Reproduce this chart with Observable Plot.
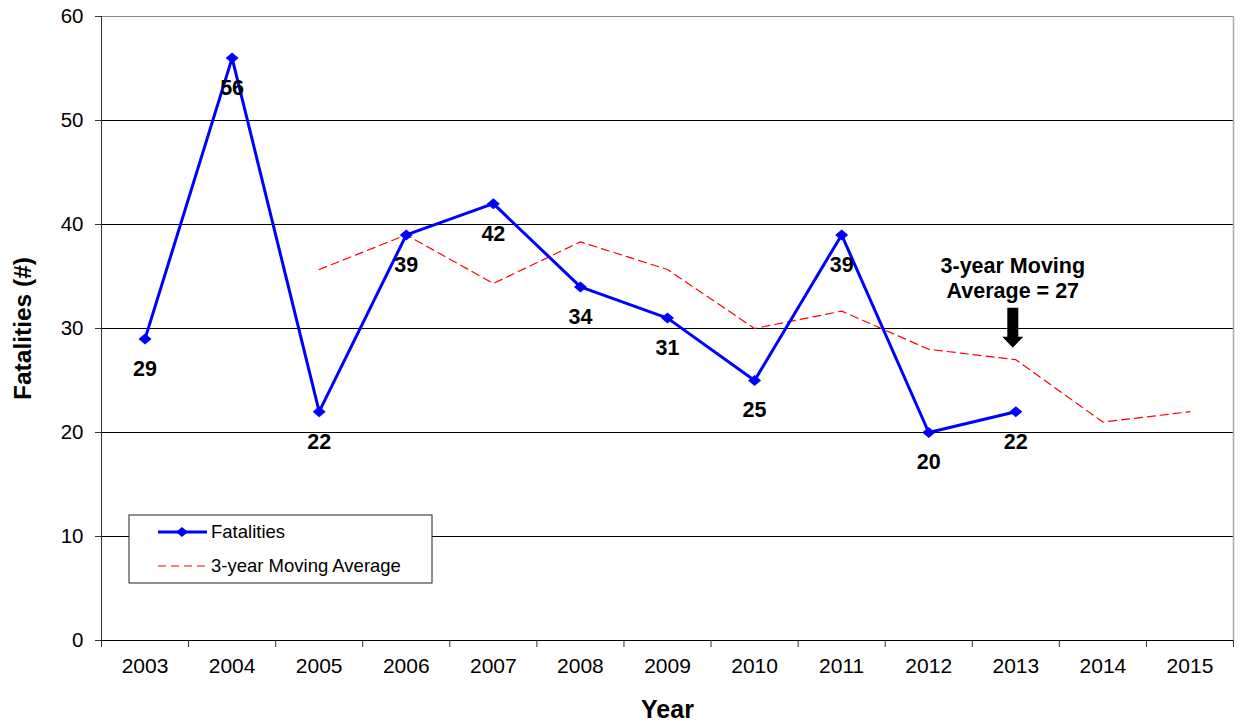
<!DOCTYPE html>
<html>
<head>
<meta charset="utf-8">
<script src="https://cdn.jsdelivr.net/npm/d3@7"></script>
<script src="https://cdn.jsdelivr.net/npm/@observablehq/plot@0.6"></script>
<style>
  html, body { margin: 0; padding: 0; background: #fff; }
  #chart { position: relative; width: 1242px; height: 721px; }
  svg { font-family: "Liberation Sans", Arial, sans-serif; }
</style>
</head>
<body>
<div id="chart"></div>
<script>
const years = [2003, 2004, 2005, 2006, 2007, 2008, 2009, 2010, 2011, 2012, 2013, 2014, 2015];
const fatalityYears = [2003, 2004, 2005, 2006, 2007, 2008, 2009, 2010, 2011, 2012, 2013];
const fatalities = [29, 56, 22, 39, 42, 34, 31, 25, 39, 20, 22];
const maYears = [2005, 2006, 2007, 2008, 2009, 2010, 2011, 2012, 2013, 2014, 2015];
const movingAverage = [35.67, 39, 34.33, 38.33, 35.67, 30, 31.67, 28, 27, 21, 22];
const yTicks = [0, 10, 20, 30, 40, 50, 60];
const annotationText = "3-year Moving\nAverage = 27";
const annotationYear = 2013;
const annotationValue = 27;
const legendLabels = ["Fatalities", "3-year Moving Average"];

const fatalData = fatalityYears.map((y, i) => ({year: y, value: fatalities[i]}));
const maData = maYears.map((y, i) => ({year: y, value: movingAverage[i]}));
const bounds = [...years.map(y => y - 0.5), years[years.length - 1] + 0.5];

const BLUE = "#0000ff";
const RED = "#ff0000";

// flat, slightly wide diamond marker
const diamondSymbol = {
  draw(ctx) {
    ctx.moveTo(0, -5.5);
    ctx.lineTo(6.5, 0);
    ctx.lineTo(0, 5.5);
    ctx.lineTo(-6.5, 0);
    ctx.closePath();
  }
};

// custom arrow symbol: origin at data point, arrow sits above it
const arrowSymbol = {
  draw(ctx) {
    ctx.moveTo(-5.5, -52);
    ctx.lineTo(5.5, -52);
    ctx.lineTo(5.5, -23);
    ctx.lineTo(10.5, -23);
    ctx.lineTo(0, -12);
    ctx.lineTo(-10.5, -23);
    ctx.lineTo(-5.5, -23);
    ctx.closePath();
  }
};

const chart = Plot.plot({
  width: 1242,
  height: 721,
  marginLeft: 101,
  marginRight: 9,
  marginTop: 16,
  marginBottom: 81,
  style: {fontFamily: "'Liberation Sans', Arial, sans-serif", background: "#fff", overflow: "visible"},
  x: {type: "linear", domain: [bounds[0], bounds[bounds.length - 1]]},
  y: {domain: [0, 60]},
  marks: [
    Plot.ruleY(yTicks.filter(d => d > 0 && d < 60), {stroke: "#000", strokeWidth: 1}),
    Plot.ruleY([60], {stroke: "#888", strokeWidth: 1}),
    Plot.ruleX([bounds[bounds.length - 1]], {stroke: "#aaa", strokeWidth: 1.5}),
    Plot.ruleX([bounds[0]], {stroke: "#333", strokeWidth: 1}),
    Plot.ruleY([0], {stroke: "#000", strokeWidth: 1}),
    Plot.axisY({ticks: yTicks, tickSize: 6, tickPadding: 12, fontSize: 20.5, label: null, stroke: "#333", fill: "#000"}),
    Plot.axisX({ticks: bounds, tickFormat: () => "", tickSize: 7, label: null, stroke: "#333"}),
    Plot.axisX({ticks: years, tickFormat: d => String(d), tickSize: 0, tickPadding: 18, fontSize: 21, label: null, fill: "#000"}),
    Plot.text(["Year"], {frameAnchor: "bottom", lineAnchor: "middle", dy: 69, fontSize: 25, fontWeight: "bold", fill: "#000"}),
    Plot.text(["Fatalities (#)"], {frameAnchor: "left", textAnchor: "middle", lineAnchor: "middle", dx: -78, rotate: -90, fontSize: 24.5, fontWeight: "bold", fill: "#000"}),
    Plot.line(maData, {x: "year", y: "value", stroke: RED, strokeWidth: 1.2, strokeDasharray: "8,5"}),
    Plot.line(fatalData, {x: "year", y: "value", stroke: BLUE, strokeWidth: 3}),
    Plot.dot(fatalData, {x: "year", y: "value", symbol: diamondSymbol, fill: BLUE, stroke: "none"}),
    Plot.text(fatalData, {x: "year", y: "value", text: d => String(d.value), dy: 30, fontSize: 21.5, fontWeight: "bold", fill: "#000"}),
    Plot.dot([{year: annotationYear, value: annotationValue}], {x: "year", y: "value", dx: -3, symbol: arrowSymbol, fill: "#000", stroke: "none"}),
    Plot.text([{year: annotationYear, value: annotationValue}], {x: "year", y: "value", dx: -3, text: () => annotationText, dy: -82, lineHeight: 1.15, fontSize: 21.5, fontWeight: "bold", fill: "#000"})
  ]
});

document.getElementById("chart").appendChild(chart);

// Legend box inside plot
const svg = d3.select(chart);
const lg = svg.append("g").attr("transform", "translate(129,515)").attr("text-anchor", "start");
lg.append("rect").attr("width", 303).attr("height", 68).attr("fill", "#fff").attr("stroke", "#222").attr("stroke-width", 1);
lg.append("line").attr("x1", 29).attr("x2", 78).attr("y1", 17).attr("y2", 17).attr("stroke", BLUE).attr("stroke-width", 3);
lg.append("path").attr("d", "M0,-5L6,0L0,5L-6,0Z").attr("transform", "translate(53,17)").attr("fill", BLUE);
lg.append("text").attr("x", 82).attr("y", 17).attr("dy", "0.35em").attr("font-size", 18.5).attr("fill", "#000").attr("text-anchor", "start").text(legendLabels[0]);
lg.append("line").attr("x1", 29).attr("x2", 78).attr("y1", 51).attr("y2", 51).attr("stroke", RED).attr("stroke-width", 1.2).attr("stroke-dasharray", "8,5");
lg.append("text").attr("x", 82).attr("y", 51).attr("dy", "0.35em").attr("font-size", 18.5).attr("fill", "#000").attr("text-anchor", "start").text(legendLabels[1]);
</script>
</body>
</html>
